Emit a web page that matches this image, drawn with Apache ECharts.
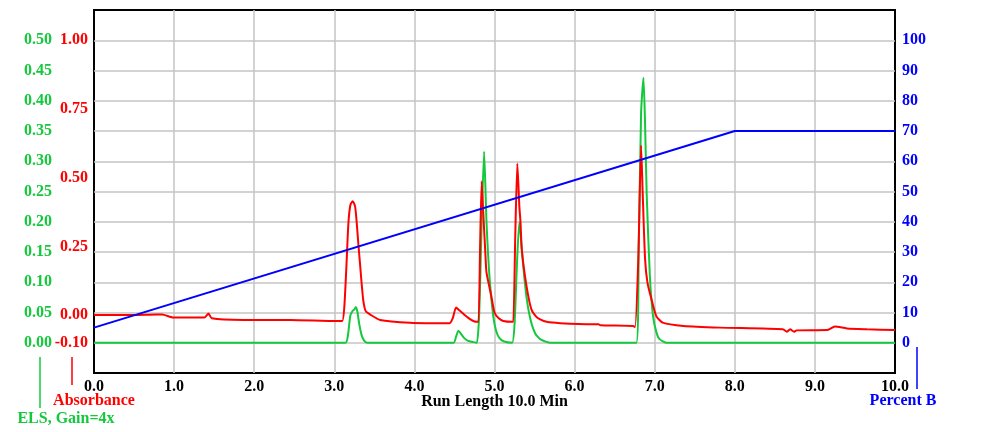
<!DOCTYPE html>
<html>
<head>
<meta charset="utf-8">
<script src="https://cdn.jsdelivr.net/npm/echarts@6/dist/echarts.min.js"></script>
<style>
html,body{margin:0;padding:0;background:#fff;}
#chart{width:1000px;height:432px;}
</style>
</head>
<body>
<div id="chart"></div>
<script>
// ---- Data ----
const gradTime  = [0, 8.0, 10.0];
const gradValue = [5, 70, 70];

const elsTime  = [0, 3.14, 3.17, 3.20, 3.23, 3.25, 3.27, 3.29, 3.31, 3.34, 3.37, 3.41,
  4.49, 4.52, 4.55, 4.58, 4.62, 4.67, 4.74, 4.78,
  4.81, 4.84, 4.87, 4.90, 4.94, 4.985, 5.02, 5.06, 5.12, 5.22,
  5.25, 5.28, 5.31, 5.36, 5.40, 5.45, 5.51, 5.58, 5.70,
  6.77, 6.80, 6.83, 6.86, 6.88, 6.90, 6.94, 6.98, 7.02, 7.06, 7.15, 10.0];
const elsValue = [0, 0, 0.012, 0.045, 0.053, 0.055, 0.059, 0.050, 0.032, 0.013, 0.004, 0,
  0, 0.010, 0.020, 0.015, 0.008, 0.003, 0.001, 0,
  0.05, 0.20, 0.316, 0.20, 0.104, 0.043, 0.020, 0.008, 0.002, 0,
  0.03, 0.13, 0.199, 0.125, 0.075, 0.038, 0.015, 0.005, 0,
  0, 0.15, 0.38, 0.438, 0.36, 0.246, 0.109, 0.043, 0.018, 0.006, 0, 0];

const absTime  = [0, 0.5, 0.78, 0.85, 0.99, 1.38, 1.43, 1.47, 1.86, 2.45, 3.03, 3.10,
  3.125, 3.15, 3.175, 3.20, 3.23, 3.26, 3.28, 3.30, 3.32, 3.34, 3.36, 3.38, 3.40, 3.445, 3.57, 3.945, 4.44,
  4.48, 4.52, 4.56, 4.62, 4.70, 4.77, 4.80,
  4.82, 4.84, 4.86, 4.885, 4.90, 4.96, 5.00, 5.05, 5.11, 5.22, 5.235,
  5.26, 5.285, 5.31, 5.325, 5.34, 5.40, 5.46, 5.52, 5.57, 5.65, 5.82, 6.23, 6.30, 6.32, 6.73, 6.755,
  6.795, 6.83, 6.85, 6.88, 6.91, 6.96, 7.02, 7.10, 7.36, 7.815,
  8.6, 8.65, 8.69, 8.74, 8.77, 9.15, 9.25, 9.40, 9.65, 10.0];
const absValue = [0.001, 0.001, 0.003, 0.003, -0.008, -0.008, 0.006, -0.011, -0.017, -0.017, -0.021, -0.021,
  0.03, 0.17, 0.33, 0.40, 0.415, 0.395, 0.336, 0.26, 0.191, 0.12, 0.058, 0.025, 0.012, 0.003, -0.017, -0.027, -0.029,
  -0.01, 0.028, 0.018, 0.003, -0.015, -0.024, -0.024,
  0.25, 0.487, 0.37, 0.23, 0.156, 0.07, 0.01, -0.010, -0.021, -0.024, -0.024,
  0.30, 0.552, 0.397, 0.336, 0.239, 0.106, 0.022, -0.005, -0.015, -0.024, -0.029, -0.033, -0.033, -0.036, -0.039, -0.043,
  0.203, 0.617, 0.445, 0.203, 0.118, 0.058, -0.003, -0.027, -0.039, -0.045,
  -0.051, -0.060, -0.051, -0.060, -0.055, -0.054, -0.041, -0.048, -0.051, -0.054];

const absTicks = [-0.10, 0.00, 0.25, 0.50, 0.75, 1.00];

const RED = '#ff0000', GREEN = '#14c83c', BLUE = '#0000ff';
const FONT = '"Liberation Serif", "Times New Roman", serif';
const GRIDC = '#c4c4c4';

const zip = (a, b) => a.map((t, i) => [t, b[i]]);

const chart = echarts.init(document.getElementById('chart'), null, {renderer: 'canvas'});
chart.setOption({
  animation: false,
  backgroundColor: '#ffffff',
  grid: {left: 94, right: 105, top: 10, bottom: 59, show: true, borderColor: '#000', borderWidth: 2, backgroundColor: 'transparent'},
  xAxis: {
    type: 'value', min: 0, max: 10, interval: 1,
    name: 'Run Length 10.0 Min', nameLocation: 'middle', nameGap: 21, nameMoveOverlap: false,
    nameTextStyle: {fontFamily: FONT, fontWeight: 'bold', fontSize: 16, color: '#000'},
    axisLine: {show: false}, axisTick: {show: false},
    axisLabel: {fontFamily: FONT, fontWeight: 'bold', fontSize: 16, color: '#000', margin: 6,
      formatter: v => v.toFixed(1)},
    splitLine: {show: true, showMinLine: false, showMaxLine: false, lineStyle: {color: GRIDC, width: 1.5}}
  },
  yAxis: [
    { // Percent B
      type: 'value', position: 'right', min: -10, max: 110, interval: 10,
      axisLine: {show: false}, axisTick: {show: false},
      axisLabel: {fontFamily: FONT, fontWeight: 'bold', fontSize: 16, color: BLUE, margin: 7,
        formatter: v => (v < 0 || v > 100) ? '' : String(Math.round(v))},
      splitLine: {show: true, showMinLine: false, showMaxLine: false, lineStyle: {color: GRIDC, width: 1.5}}
    },
    { // Absorbance
      type: 'value', position: 'left', offset: 0, min: -0.21, max: 1.11,
      axisLine: {show: false}, axisTick: {show: false},
      axisLabel: {fontFamily: FONT, fontWeight: 'bold', fontSize: 16, color: RED, margin: 6,
        customValues: absTicks, formatter: v => v.toFixed(2)},
      splitLine: {show: false}
    },
    { // ELS
      type: 'value', position: 'left', offset: 36, min: -0.05, max: 0.55, interval: 0.05,
      axisLine: {show: false}, axisTick: {show: false},
      axisLabel: {fontFamily: FONT, fontWeight: 'bold', fontSize: 16, color: GREEN, margin: 6,
        formatter: v => (v < -0.001 || v > 0.501) ? '' : v.toFixed(2)},
      splitLine: {show: false}
    }
  ],
  graphic: [
    {type: 'line', shape: {x1: 40, y1: 357, x2: 40, y2: 408}, style: {stroke: GREEN, lineWidth: 1.5}},
    {type: 'line', shape: {x1: 72, y1: 357, x2: 72, y2: 385}, style: {stroke: RED, lineWidth: 1.5}},
    {type: 'line', shape: {x1: 917, y1: 347, x2: 917, y2: 389}, style: {stroke: BLUE, lineWidth: 1.5}},
    {type: 'text', x: 94, y: 401, style: {text: 'Absorbance', fill: RED, font: 'bold 16px ' + FONT, textAlign: 'center', textVerticalAlign: 'middle'}},
    {type: 'text', x: 66, y: 419, style: {text: 'ELS, Gain=4x', fill: GREEN, font: 'bold 16px ' + FONT, textAlign: 'center', textVerticalAlign: 'middle'}},
    {type: 'text', x: 903, y: 401, style: {text: 'Percent B', fill: BLUE, font: 'bold 16px ' + FONT, textAlign: 'center', textVerticalAlign: 'middle'}}
  ],
  series: [
    {name: 'ELS', type: 'line', yAxisIndex: 2, data: zip(elsTime, elsValue), showSymbol: false,
      smooth: 0.2, lineStyle: {color: GREEN, width: 2}, z: 3},
    {name: 'Absorbance', type: 'line', yAxisIndex: 1, data: zip(absTime, absValue), showSymbol: false,
      smooth: 0.2, lineStyle: {color: RED, width: 2}, z: 4},
    {name: 'Percent B', type: 'line', yAxisIndex: 0, data: zip(gradTime, gradValue), showSymbol: false,
      lineStyle: {color: BLUE, width: 2}, z: 5}
  ]
});
</script>
</body>
</html>
